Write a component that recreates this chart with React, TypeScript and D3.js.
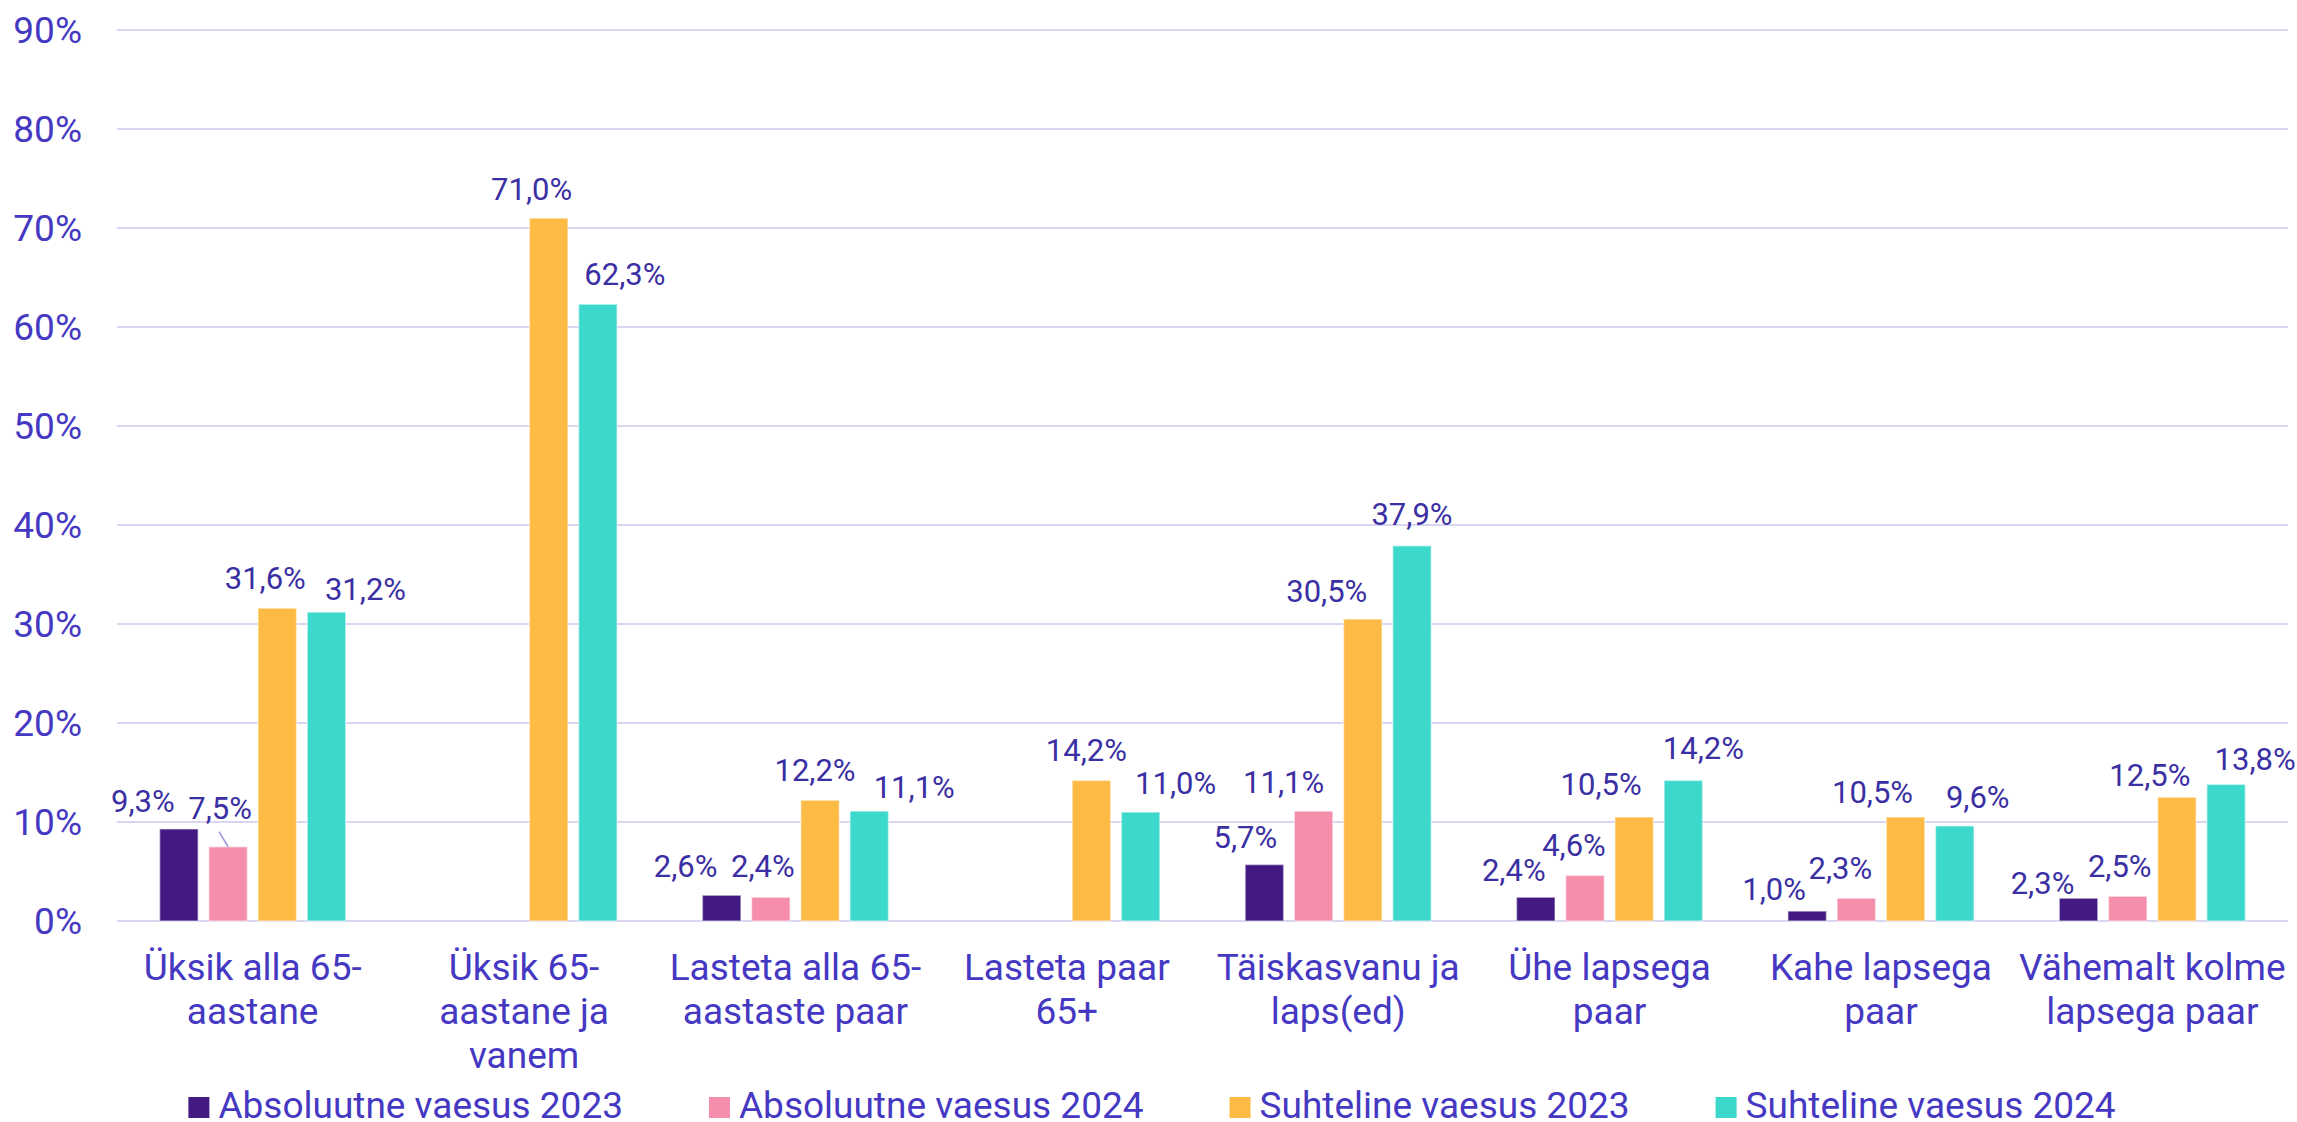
import React, { useEffect, useMemo } from "react";
import * as d3 from "d3";

const categories = [
  "Üksik alla 65-\naastane",
  "Üksik 65-\naastane ja\nvanem",
  "Lasteta alla 65-\naastaste paar",
  "Lasteta paar\n65+",
  "Täiskasvanu ja\nlaps(ed)",
  "Ühe lapsega\npaar",
  "Kahe lapsega\npaar",
  "Vähemalt kolme\nlapsega paar",
];

const seriesNames = [
  "Absoluutne vaesus 2023",
  "Absoluutne vaesus 2024",
  "Suhteline vaesus 2023",
  "Suhteline vaesus 2024",
];

const absolute2023 = [9.3, null, 2.6, null, 5.7, 2.4, 1.0, 2.3];
const absolute2024 = [7.5, null, 2.4, null, 11.1, 4.6, 2.3, 2.5];
const relative2023 = [31.6, 71.0, 12.2, 14.2, 30.5, 10.5, 10.5, 12.5];
const relative2024 = [31.2, 62.3, 11.1, 11.0, 37.9, 14.2, 9.6, 13.8];

const yTicks = [0, 10, 20, 30, 40, 50, 60, 70, 80, 90];

// layout: manual label nudges (dx, dy) relative to default above-bar placement
const labelNudges = [
  [[-36, 3], null, [-36, 1], null, [-19, 3], [-22, 3], [-33, 8], [-36, 15]],
  [[-8, -8], null, [-8, -1], null, [-30, 1], [-11, 0], [-16, 0], [-8, 0]],
  [[-12, 0], [-17, 1], [-5, 0], [-5, 0], [-36, 2], [-33, -3], [-33, 5], [-27, 8]],
  [[39, 7], [27, 0], [45, 6], [35, 1], [0, -1], [20, -2], [23, 2], [29, 5]],
];
const leaders = [[1, 0]];

const colors = ["#421a82", "#f48eaa", "#fdba45", "#3dd8cc"];
const axisColor = "#4538c2";
const labelColor = "#3a2fa3";
const gridColor = "#dad6f1";
const FONT = "Roboto, 'Noto Sans', sans-serif";

const W = 2297;
const H = 1122;

function measure(text: string, size: number) {
  const c = document.createElement("canvas").getContext("2d");
  if (!c) return text.length * size * 0.5;
  c.font = `${size}px Roboto`;
  return c.measureText(text).width;
}

export default function App() {
  useEffect(() => {
    document.body.style.margin = "0";
    document.body.style.overflow = "hidden";
  }, []);

  const seriesValues = [absolute2023, absolute2024, relative2023, relative2024];

  const x = d3.scaleBand<string>().domain(categories).range([117, 2288]).padding(0);
  const x1 = d3
    .scaleBand<number>()
    .domain([0, 1, 2, 3])
    .range([0, x.bandwidth()])
    .paddingInner(0.2175)
    .paddingOuter(0.867);
  const y = d3.scaleLinear().domain([0, 90]).range([921, 30]);
  const fmt = (v: number) => d3.format(".1f")(v).replace(".", ",") + "%";

  const legendLayout = useMemo(() => {
    const sq = 21;
    const gapText = 9;
    const gapItem = 86;
    const widths = seriesNames.map((s) => measure(s, 37));
    const total =
      widths.reduce((a, w) => a + sq + gapText + w, 0) + gapItem * (seriesNames.length - 1);
    let cx = 1152 - total / 2;
    return seriesNames.map((s, i) => {
      const pos = cx;
      cx += sq + gapText + widths[i] + gapItem;
      return pos;
    });
  }, []);

  return (
    <svg width={W} height={H} style={{ display: "block", background: "#fff" }} fontFamily={FONT}>
      {/* gridlines */}
      {yTicks.map((t) => (
        <g key={t}>
          <line x1={117} x2={2288} y1={y(t)} y2={y(t)} stroke={gridColor} strokeWidth={2} />
          <text x={82} y={y(t) + 12.5} textAnchor="end" fontSize={37} fill={axisColor}>
            {t}%
          </text>
        </g>
      ))}

      {/* bars */}
      {categories.map((cat, ci) => (
        <g key={cat} transform={`translate(${x(cat)},0)`}>
          {seriesValues.map((vals, si) => {
            const v = vals[ci];
            if (v == null) return null;
            return (
              <rect
                key={si}
                x={x1(si)}
                y={y(v)}
                width={x1.bandwidth()}
                height={y(0) - y(v)}
                fill={colors[si]}
                stroke="#ffffff"
                strokeOpacity={0.45}
                strokeWidth={1.5}
              />
            );
          })}
        </g>
      ))}

      {/* leader lines */}
      {leaders.map(([si, ci]) => {
        const v = seriesValues[si][ci] as number;
        const n = labelNudges[si][ci] as number[];
        const bx = (x(categories[ci]) as number) + (x1(si) as number) + x1.bandwidth() / 2;
        const by = y(v);
        const lx = bx + n[0] - 1;
        const ly = by - 19.5 + n[1] + 12.5;
        return <line key={`l${si}-${ci}`} x1={lx} y1={ly} x2={bx} y2={by} stroke="#9d97e2" strokeWidth={1.5} />;
      })}

      {/* data labels */}
      {categories.map((cat, ci) =>
        seriesValues.map((vals, si) => {
          const v = vals[ci];
          if (v == null) return null;
          const n = (labelNudges[si][ci] as number[]) || [0, 0];
          const bx = (x(cat) as number) + (x1(si) as number) + x1.bandwidth() / 2;
          return (
            <text
              key={`t${ci}-${si}`}
              x={bx + n[0]}
              y={y(v) - 19.5 + n[1]}
              textAnchor="middle"
              fontSize={31}
              fill={labelColor}
            >
              {fmt(v)}
            </text>
          );
        })
      )}

      {/* x labels */}
      {categories.map((cat) => {
        const cx = (x(cat) as number) + x.bandwidth() / 2;
        return (
          <text key={`x${cat}`} textAnchor="middle" fontSize={37} fill={axisColor}>
            {cat.split("\n").map((line, li) => (
              <tspan key={li} x={cx} y={980 + li * 44.2}>
                {line}
              </tspan>
            ))}
          </text>
        );
      })}

      {/* legend */}
      {seriesNames.map((s, i) => (
        <g key={s} transform={`translate(${legendLayout[i]},0)`}>
          <rect x={0} y={1097} width={21} height={21} fill={colors[i]} />
          <text x={30} y={1118} fontSize={37} fill={axisColor}>
            {s}
          </text>
        </g>
      ))}
    </svg>
  );
}
